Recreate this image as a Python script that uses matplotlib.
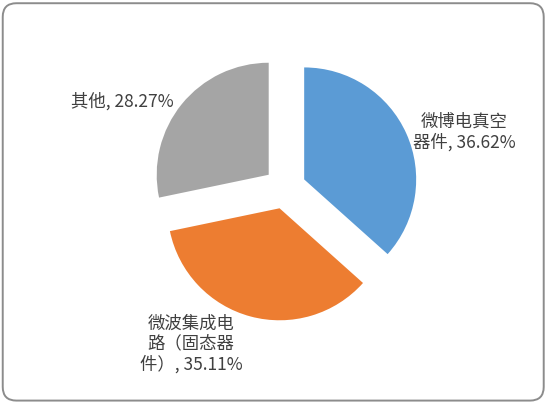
import matplotlib.pyplot as plt
from matplotlib.patches import FancyBboxPatch

plt.rcParams['font.family'] = ['Noto Sans CJK SC', 'DejaVu Sans']

labels = ["微博电真空\n器件", "微波集成电\n路（固态器\n件）", "其他"]
values = [36.62, 35.11, 28.27]
colors = ["#5B9BD5", "#ED7D31", "#A5A5A5"]
label_pos = [(464, 132), (191, 344), (122, 101)]

W, H = 547, 403
fig = plt.figure(figsize=(W / 100, H / 100), dpi=100)
ax = fig.add_axes([0, 0, 1, 1])

# rounded chart border
border = FancyBboxPatch((0.005, 0.006), 0.989, 0.986, boxstyle="round,pad=0,rounding_size=0.025",
                        transform=fig.transFigure, facecolor="none", edgecolor="#8c8c8c",
                        linewidth=1.4, mutation_aspect=W / H, zorder=5)
fig.patches.append(border)

# explode is in data units (pixels here)
ax.pie(values, colors=colors, startangle=90, counterclock=False,
       explode=[21] * 3, center=(285, H - 188), radius=112,
       wedgeprops=dict(linewidth=0), frame=True)
ax.set_xlim(0, W)
ax.set_ylim(0, H)
ax.set_aspect("equal")
ax.axis("off")

for lab, v, (x, y) in zip(labels, values, label_pos):
    ax.text(x, H - y, f"{lab}, {v:.2f}%", ha="center", va="center",
            multialignment="center", fontsize=12.5, color="#404040", linespacing=1.15)

fig.savefig("out.png", dpi=100)
